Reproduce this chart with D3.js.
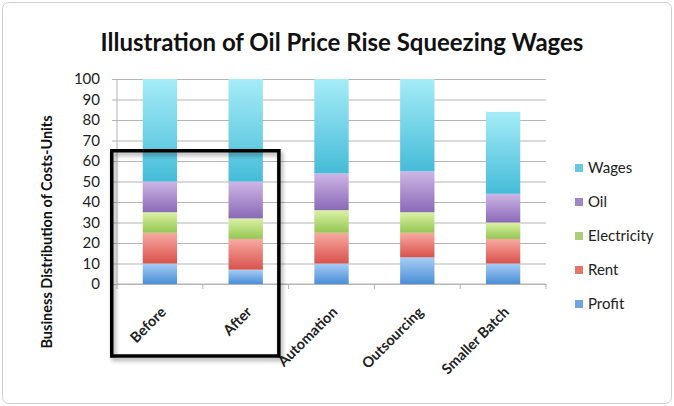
<!DOCTYPE html>
<html>
<head>
<meta charset="utf-8">
<script src="https://cdn.jsdelivr.net/npm/d3@7"></script>
<style>
  body { margin: 0; background: #fff; }
  svg { display: block; font-family: Lato, "Open Sans", sans-serif; }
</style>
</head>
<body>
<svg width="674" height="406"></svg>
<script>
// data
var categories = ["Before", "After", "Automation", "Outsourcing", "Smaller Batch"];
var seriesNames = ["Profit", "Rent", "Electricity", "Oil", "Wages"];
var profit      = [10, 7, 10, 13, 10];
var rent        = [15, 15, 15, 12, 12];
var electricity = [10, 10, 11, 10, 8];
var oil         = [15, 18, 18, 20, 14];
var wages       = [50, 50, 46, 45, 40];
var yTicks = [0, 10, 20, 30, 40, 50, 60, 70, 80, 90, 100];
var boxTop = 65; // highlight box reaches this value

var colors = {
  Profit:      ["#a6cdf5", "#4a8ed6"],
  Rent:        ["#f7aaa2", "#d9524c"],
  Electricity: ["#daf2a4", "#95c652"],
  Oil:         ["#cdb6e6", "#8b69b7"],
  Wages:       ["#a6ecf8", "#45bcd8"]
};

var svg = d3.select("svg");
var margin = { top: 79, left: 117, right: 128, bottom: 122 };
var width = 674, height = 406;

var x = d3.scaleBand().domain(categories).range([margin.left, width - margin.right]).paddingInner(0.6).paddingOuter(0.3);
var y = d3.scaleLinear().domain([0, 100]).range([height - margin.bottom, margin.top]);

// outer frame
svg.append("rect").attr("x", 2.5).attr("y", 2.5).attr("width", 669).attr("height", 401)
  .attr("rx", 6).attr("fill", "none").attr("stroke", "#d0d0d0");

// gradients
var defs = svg.append("defs");
seriesNames.forEach(function (s) {
  var g = defs.append("linearGradient").attr("id", "g-" + s)
    .attr("x1", 0).attr("y1", 0).attr("x2", 0).attr("y2", 1);
  g.append("stop").attr("offset", "0%").attr("stop-color", colors[s][0]);
  g.append("stop").attr("offset", "100%").attr("stop-color", colors[s][1]);
});
var shadow = defs.append("filter").attr("id", "shadow").attr("x", "-10%").attr("y", "-10%").attr("width", "130%").attr("height", "130%");
shadow.append("feDropShadow").attr("dx", 2).attr("dy", 3).attr("stdDeviation", 2).attr("flood-color", "#000").attr("flood-opacity", 0.35);

// title
svg.append("text").attr("x", 342).attr("y", 51).attr("text-anchor", "middle")
  .attr("font-size", 24).attr("font-weight", "bold").attr("fill", "#111")
  .text("Illustration of Oil Price Rise Squeezing Wages");

// y axis with gridlines
var yAxis = d3.axisLeft(y).tickValues(yTicks).tickSize(-(width - margin.right - margin.left + 5)).tickPadding(12);
var gy = svg.append("g").attr("transform", "translate(" + [margin.left - 5, 0] + ")").call(yAxis);
gy.select(".domain").remove();
gy.selectAll(".tick line").attr("stroke", "#b5b5b5");
gy.selectAll(".tick text").attr("font-size", 15).attr("fill", "#222").attr("font-family", "Lato, sans-serif");
svg.append("line").attr("x1", margin.left).attr("x2", margin.left)
  .attr("y1", y(100)).attr("y2", y(0)).attr("stroke", "#b5b5b5");

// x axis
var bounds = d3.range(categories.length + 1).map(function (i) { return margin.left + i * (width - margin.right - margin.left) / categories.length; });
svg.selectAll(".xtick").data(bounds).enter().append("line")
  .attr("x1", d => d).attr("x2", d => d).attr("y1", y(0)).attr("y2", y(0) + 5).attr("stroke", "#b5b5b5");
svg.append("line").attr("x1", margin.left).attr("x2", width - margin.right)
  .attr("y1", y(0)).attr("y2", y(0)).attr("stroke", "#b5b5b5");

// stacked bars
var rows = categories.map(function (c, i) {
  return { cat: c, Profit: profit[i], Rent: rent[i], Electricity: electricity[i], Oil: oil[i], Wages: wages[i] };
});
var stack = d3.stack().keys(seriesNames)(rows);
svg.selectAll(".layer").data(stack).enter().append("g")
  .attr("fill", d => "url(#g-" + d.key + ")")
  .selectAll("rect").data(d => d).enter().append("rect")
  .attr("x", d => x(d.data.cat))
  .attr("width", x.bandwidth())
  .attr("y", d => y(d[1]))
  .attr("height", d => y(d[0]) - y(d[1]));

// category labels
svg.selectAll(".xlab").data(categories).enter().append("text")
  .attr("transform", d => "translate(" + [x(d) + x.bandwidth() / 2 + 7, y(0) + 29] + ") rotate(-45)")
  .attr("text-anchor", "end").attr("font-size", 14.5).attr("font-weight", "bold").attr("fill", "#222")
  .text(d => d);

// y label
svg.append("text").attr("transform", "translate(52," + 232 + ") rotate(-90)")
  .attr("text-anchor", "middle").attr("font-size", 14.5).attr("font-weight", "bold").attr("fill", "#111")
  .text("Business Distribution of Costs-Units");

// highlight box around Before/After
var bx0 = x("Before") - 31, bx1 = x("After") + x.bandwidth() + 16;
svg.append("rect").attr("x", bx0).attr("y", y(boxTop))
  .attr("width", bx1 - bx0).attr("height", 356 - y(boxTop))
  .attr("fill", "none").attr("stroke", "#000").attr("stroke-width", 3.5)
  .attr("filter", "url(#shadow)");

// legend
var legend = svg.append("g").attr("transform", "translate(575,164)");
var legendOrder = seriesNames.slice().reverse();
legendOrder.forEach(function (s, i) {
  var g = legend.append("g").attr("transform", "translate(0," + (i * 34) + ")");
  g.append("rect").attr("width", 8).attr("height", 8).attr("fill", colors[s][1]).attr("opacity", 0.8);
  g.append("text").attr("x", 13).attr("y", 9).attr("font-size", 15).attr("fill", "#222").text(s);
});
</script>
</body>
</html>
